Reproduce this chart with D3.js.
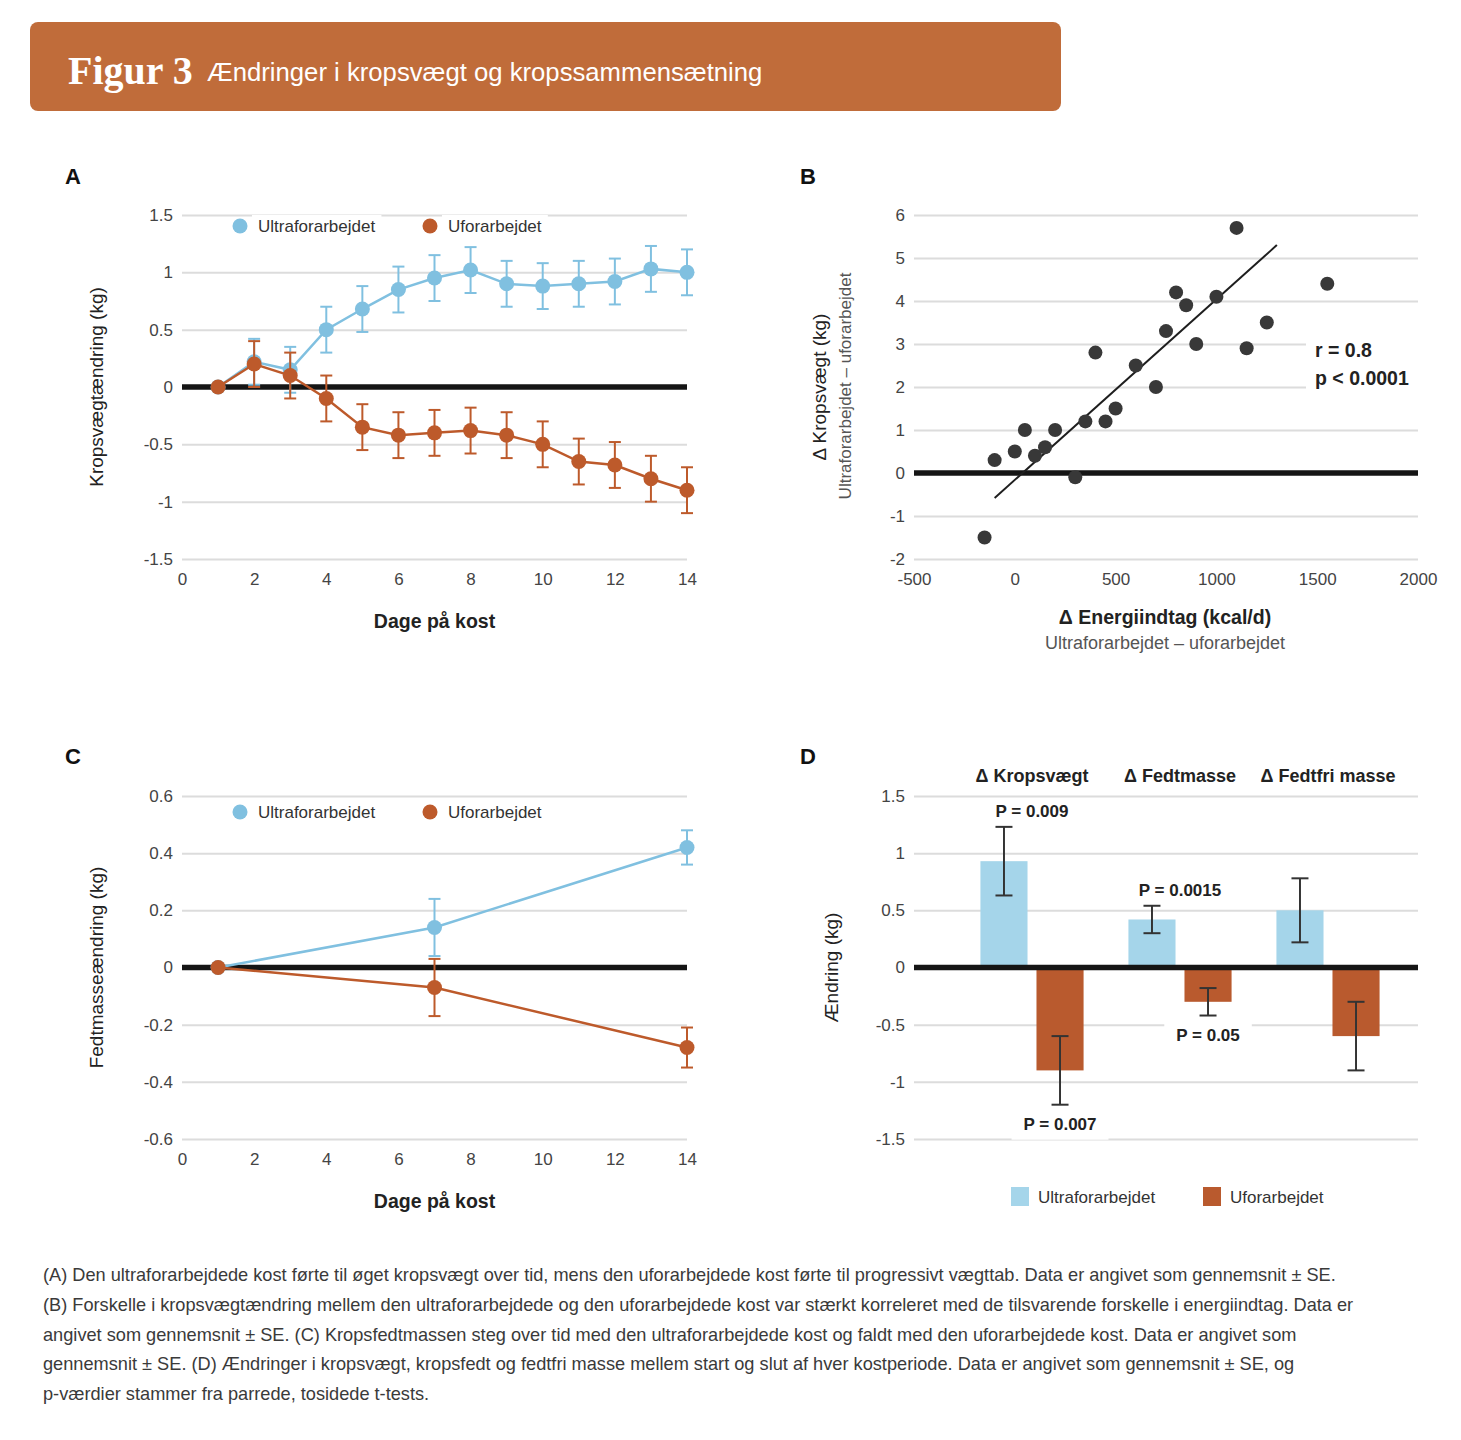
<!DOCTYPE html>
<html>
<head>
<meta charset="utf-8">
<script src="https://cdn.jsdelivr.net/npm/d3@7"></script>
<style>
  body { margin: 0; background: #fff; }
  svg { font-family: 'Liberation Sans', Arial, sans-serif; }
  .tick text { fill: #444; font-size: 17px; }
  .grid .tick line { stroke: #dcdcdc; stroke-width: 2; }
  .axis-title { fill: #222; font-size: 19px; }
  .axis-bold { fill: #222; font-size: 19.5px; font-weight: bold; }
  .panel-label { fill: #111; font-size: 22px; font-weight: bold; }
  .legend text { fill: #333; font-size: 17px; }
</style>
</head>
<body>
<svg id="fig"></svg>
<script>
// ---- data ----
// A: body weight change by day
const daysA = [1, 2, 3, 4, 5, 6, 7, 8, 9, 10, 11, 12, 13, 14]
const ultraWeight = [0, 0.22, 0.15, 0.5, 0.68, 0.85, 0.95, 1.02, 0.9, 0.88, 0.9, 0.92, 1.03, 1.0]
const ultraWeightSE = [null, 0.2, 0.2, 0.2, 0.2, 0.2, 0.2, 0.2, 0.2, 0.2, 0.2, 0.2, 0.2, 0.2]
const unprocWeight = [0, 0.2, 0.1, -0.1, -0.35, -0.42, -0.4, -0.38, -0.42, -0.5, -0.65, -0.68, -0.8, -0.9]
const unprocWeightSE = [null, 0.2, 0.2, 0.2, 0.2, 0.2, 0.2, 0.2, 0.2, 0.2, 0.2, 0.2, 0.2, 0.2]
const ticksA = [-1.5, -1, -0.5, 0, 0.5, 1, 1.5]
const dayTicks = [0, 2, 4, 6, 8, 10, 12, 14]

// B: energy intake difference vs body weight difference
const energyDiff = [-150, -100, 0, 50, 100, 150, 200, 300, 350, 400, 450, 500, 600, 700, 750, 800, 850, 900, 1000, 1100, 1150, 1250, 1550]
const weightDiff = [-1.5, 0.3, 0.5, 1.0, 0.4, 0.6, 1.0, -0.1, 1.2, 2.8, 1.2, 1.5, 2.5, 2.0, 3.3, 4.2, 3.9, 3.0, 4.1, 5.7, 2.9, 3.5, 4.4]
const fitIntercept = -0.16
const fitSlope = 0.0042
const fitRange = [-100, 1300]
const ticksBx = [-500, 0, 500, 1000, 1500, 2000]
const ticksBy = [-2, -1, 0, 1, 2, 3, 4, 5, 6]

// C: fat mass change
const daysC = [1, 7, 14]
const ultraFat = [0, 0.14, 0.42]
const ultraFatSE = [null, 0.1, 0.06]
const unprocFat = [0, -0.07, -0.28]
const unprocFatSE = [null, 0.1, 0.07]
const ticksC = [-0.6, -0.4, -0.2, 0, 0.2, 0.4, 0.6]

// D: start-to-end change
const measures = ['Δ Kropsvægt', 'Δ Fedtmasse', 'Δ Fedtfri masse']
const ultraChange = [0.93, 0.42, 0.5]
const ultraChangeSE = [0.3, 0.12, 0.28]
const unprocChange = [-0.9, -0.3, -0.6]
const unprocChangeSE = [0.3, 0.12, 0.3]
const ultraP = ['P = 0.009', 'P = 0.0015', null]
const unprocP = ['P = 0.007', 'P = 0.05', null]
const ticksD = [-1.5, -1, -0.5, 0, 0.5, 1, 1.5]

const diets = ['Ultraforarbejdet', 'Uforarbejdet']
const lineColors = ['#80c0e0', '#bd5a2b']
const barColors = ['#a5d5ea', '#b95a2e']

const captionLines = [
  '(A) Den ultraforarbejdede kost førte til øget kropsvægt over tid, mens den uforarbejdede kost førte til progressivt vægttab. Data er angivet som gennemsnit ± SE.',
  '(B) Forskelle i kropsvægtændring mellem den ultraforarbejdede og den uforarbejdede kost var stærkt korreleret med de tilsvarende forskelle i energiindtag. Data er',
  'angivet som gennemsnit ± SE. (C) Kropsfedtmassen steg over tid med den ultraforarbejdede kost og faldt med den uforarbejdede kost. Data er angivet som',
  'gennemsnit ± SE. (D) Ændringer i kropsvægt, kropsfedt og fedtfri masse mellem start og slut af hver kostperiode. Data er angivet som gennemsnit ± SE, og',
  'p-værdier stammer fra parrede, tosidede t-tests.'
]

// ---- drawing ----
const svg = d3.select('#fig').attr('width', 1461).attr('height', 1440)
const fmt = d => String(+d.toFixed(2))

// header
svg.append('rect').attr('x', 30).attr('y', 22).attr('width', 1031).attr('height', 89)
  .attr('rx', 8).attr('fill', '#c06c3a')
svg.append('text').attr('x', 68).attr('y', 84)
  .style('font-family', "'Liberation Serif', 'DejaVu Serif', serif")
  .style('font-weight', 'bold').style('font-size', '40px').attr('fill', '#fff')
  .text('Figur 3')
svg.append('text').attr('x', 207).attr('y', 81)
  .style('font-size', '25.7px').attr('fill', '#fff')
  .text('Ændringer i kropsvægt og kropssammensætning')

// panel labels
;[['A', 65, 184], ['B', 800, 184], ['C', 65, 764], ['D', 800, 764]].forEach(p => {
  svg.append('text').attr('class', 'panel-label').attr('x', p[1]).attr('y', p[2]).text(p[0])
})

function yGrid(g, y, ticks, w) {
  const ax = g.append('g').attr('class', 'grid')
    .call(d3.axisLeft(y).tickValues(ticks).tickSize(-w).tickPadding(9).tickFormat(fmt))
  ax.select('.domain').remove()
  return ax
}

function xAxis(g, x, ticks, h) {
  const ax = g.append('g').attr('transform', `translate(0,${h})`)
    .call(d3.axisBottom(x).tickValues(ticks).tickSize(0).tickPadding(14).tickFormat(fmt))
  ax.select('.domain').remove()
}

function zeroLine(g, y, w) {
  g.append('line').attr('x1', 0).attr('x2', w).attr('y1', y(0)).attr('y2', y(0))
    .attr('stroke', '#151515').attr('stroke-width', 5.5)
}

// white box behind a text so grid lines break around it
function backing(parent, t, px, py) {
  const bb = t.node().getBBox()
  parent.insert('rect', () => t.node()).attr('x', bb.x - px).attr('y', bb.y - py)
    .attr('width', bb.width + 2 * px).attr('height', bb.height + 2 * py).attr('fill', '#fff')
}

function legendDots(g, xs, yy) {
  const lg = g.append('g').attr('class', 'legend')
  diets.forEach((d, i) => {
    const t = lg.append('text').attr('x', xs[i] + 18).attr('y', yy + 6).text(d)
    backing(lg, t, 6, 2)
    lg.append('circle').attr('cx', xs[i]).attr('cy', yy).attr('r', 7.5).attr('fill', lineColors[i])
  })
}

function lineChart(cfg) {
  const g = svg.append('g').attr('transform', `translate(${cfg.left},${cfg.top})`)
  const x = d3.scaleLinear().domain([0, 14]).range([0, cfg.width])
  const y = d3.scaleLinear().domain(cfg.yDomain).range([cfg.height, 0])

  yGrid(g, y, cfg.yTicks, cfg.width)
  xAxis(g, x, dayTicks, cfg.height)
  zeroLine(g, y, cfg.width)

  const line = d3.line().x(d => x(d.day)).y(d => y(d.v))
  cfg.series.forEach((s, i) => {
    const pts = cfg.days.map((day, j) => ({day: day, v: s.values[j], se: s.se[j]}))
    const col = lineColors[i]
    g.append('path').datum(pts).attr('d', line)
      .attr('fill', 'none').attr('stroke', col).attr('stroke-width', 2.5)
    const eb = g.append('g').attr('stroke', col).attr('stroke-width', 2)
    pts.filter(p => p.se != null).forEach(p => {
      const cx = x(p.day)
      eb.append('line').attr('x1', cx).attr('x2', cx).attr('y1', y(p.v - p.se)).attr('y2', y(p.v + p.se))
      eb.append('line').attr('x1', cx - 6).attr('x2', cx + 6).attr('y1', y(p.v - p.se)).attr('y2', y(p.v - p.se))
      eb.append('line').attr('x1', cx - 6).attr('x2', cx + 6).attr('y1', y(p.v + p.se)).attr('y2', y(p.v + p.se))
    })
    g.append('g').selectAll('circle').data(pts).join('circle')
      .attr('cx', d => x(d.day)).attr('cy', d => y(d.v)).attr('r', 7.5).attr('fill', col)
  })

  legendDots(g, [58, 248], cfg.legendY)

  g.append('text').attr('class', 'axis-title')
    .attr('transform', `translate(${-79},${cfg.height / 2}) rotate(-90)`)
    .attr('text-anchor', 'middle').text(cfg.yTitle)
  g.append('text').attr('class', 'axis-bold').attr('x', cfg.width / 2).attr('y', cfg.height + 69)
    .attr('text-anchor', 'middle').text('Dage på kost')
}

// A
lineChart({
  left: 182, top: 215, width: 505, height: 344,
  yDomain: [-1.5, 1.5], yTicks: ticksA, days: daysA, legendY: 11,
  yTitle: 'Kropsvægtændring (kg)',
  series: [{values: ultraWeight, se: ultraWeightSE}, {values: unprocWeight, se: unprocWeightSE}]
})

// C
lineChart({
  left: 182, top: 796, width: 505, height: 343,
  yDomain: [-0.6, 0.6], yTicks: ticksC, days: daysC, legendY: 16,
  yTitle: 'Fedtmasseændring (kg)',
  series: [{values: ultraFat, se: ultraFatSE}, {values: unprocFat, se: unprocFatSE}]
})

// B scatter
{
  const w = 504, h = 344
  const g = svg.append('g').attr('transform', 'translate(914,215)')
  const x = d3.scaleLinear().domain([-500, 2000]).range([0, w])
  const y = d3.scaleLinear().domain([-2, 6]).range([h, 0])
  yGrid(g, y, ticksBy, w)
  xAxis(g, x, ticksBx, h)
  zeroLine(g, y, w)

  g.append('line')
    .attr('x1', x(fitRange[0])).attr('y1', y(fitIntercept + fitSlope * fitRange[0]))
    .attr('x2', x(fitRange[1])).attr('y2', y(fitIntercept + fitSlope * fitRange[1]))
    .attr('stroke', '#1e1e1e').attr('stroke-width', 2)

  g.append('g').selectAll('circle').data(energyDiff).join('circle')
    .attr('cx', d => x(d)).attr('cy', (d, i) => y(weightDiff[i]))
    .attr('r', 7).attr('fill', '#383838')

  g.append('rect').attr('x', 392).attr('y', 118).attr('width', 112).attr('height', 64).attr('fill', '#fff')
  g.append('text').attr('class', 'axis-bold').attr('x', 401).attr('y', 142).text('r = 0.8')
  g.append('text').attr('class', 'axis-bold').attr('x', 401).attr('y', 170).text('p < 0.0001')

  g.append('text').attr('class', 'axis-title')
    .attr('transform', `translate(-88,${h / 2}) rotate(-90)`).attr('text-anchor', 'middle')
    .text('Δ Kropsvægt (kg)')
  g.append('text').attr('transform', `translate(-63,${h / 2 - 1}) rotate(-90)`)
    .attr('text-anchor', 'middle').style('font-size', '17px').attr('fill', '#555')
    .text('Ultraforarbejdet – uforarbejdet')
  g.append('text').attr('class', 'axis-bold').attr('x', 251).attr('y', 409)
    .attr('text-anchor', 'middle').text('Δ Energiindtag (kcal/d)')
  g.append('text').attr('x', 251).attr('y', 434).attr('text-anchor', 'middle')
    .style('font-size', '18px').attr('fill', '#555').text('Ultraforarbejdet – uforarbejdet')
}

// D grouped bars
{
  const w = 504, h = 343
  const g = svg.append('g').attr('transform', 'translate(914,796)')
  const x0 = d3.scaleBand().domain(measures).range([44, 488])
  const x1 = d3.scaleBand().domain(diets).range([0, x0.bandwidth()]).paddingInner(0.16).paddingOuter(0.4)
  const y = d3.scaleLinear().domain([-1.5, 1.5]).range([h, 0])
  yGrid(g, y, ticksD, w)

  const rows = []
  measures.forEach((m, i) => {
    rows.push({m: m, diet: diets[0], v: ultraChange[i], se: ultraChangeSE[i], p: ultraP[i], c: barColors[0]})
    rows.push({m: m, diet: diets[1], v: unprocChange[i], se: unprocChangeSE[i], p: unprocP[i], c: barColors[1]})
  })

  g.append('g').selectAll('rect').data(rows).join('rect')
    .attr('x', d => x0(d.m) + x1(d.diet)).attr('width', x1.bandwidth())
    .attr('y', d => y(Math.max(0, d.v))).attr('height', d => Math.abs(y(d.v) - y(0)))
    .attr('fill', d => d.c)
  zeroLine(g, y, w)

  const eb = g.append('g').attr('stroke', '#333').attr('stroke-width', 2)
  rows.forEach(d => {
    const cx = x0(d.m) + x1(d.diet) + x1.bandwidth() / 2
    eb.append('line').attr('x1', cx).attr('x2', cx).attr('y1', y(d.v - d.se)).attr('y2', y(d.v + d.se))
    ;[d.v - d.se, d.v + d.se].forEach(v => {
      eb.append('line').attr('x1', cx - 8.5).attr('x2', cx + 8.5).attr('y1', y(v)).attr('y2', y(v))
    })
  })

  // p labels: gains sit above the group, losses below their bar
  const pg = g.append('g')
  rows.filter(d => d.p).forEach(d => {
    const up = d.v > 0
    const cx = up ? x0(d.m) + x0.bandwidth() / 2 : x0(d.m) + x1(d.diet) + x1.bandwidth() / 2
    const ty = up ? y(d.v + d.se) - 10 : y(d.v - d.se) + 25
    const t = pg.append('text').attr('x', cx).attr('y', ty).attr('text-anchor', 'middle')
      .style('font-size', '17px').style('font-weight', 'bold').attr('fill', '#222').text(d.p)
    if (!up) backing(pg, t, 12, 6)
  })

  g.append('g').selectAll('text').data(measures).join('text')
    .attr('class', 'axis-bold').style('font-size', '18px')
    .attr('x', d => x0(d) + x0.bandwidth() / 2).attr('y', -14)
    .attr('text-anchor', 'middle').text(d => d)

  g.append('text').attr('class', 'axis-title')
    .attr('transform', `translate(-76,${h / 2}) rotate(-90)`).attr('text-anchor', 'middle')
    .text('Ændring (kg)')

  const lg = g.append('g').attr('class', 'legend').attr('transform', `translate(0,${h + 48})`)
  diets.forEach((d, i) => {
    const lx = [97, 289][i]
    lg.append('rect').attr('x', lx).attr('y', 0).attr('width', 18).attr('height', 19).attr('fill', barColors[i])
    lg.append('text').attr('x', lx + 27).attr('y', 16).text(d)
  })
}

// caption
svg.append('g').selectAll('text').data(captionLines).join('text')
  .attr('x', 43).attr('y', (d, i) => 1281 + i * 29.8)
  .style('font-size', '18.2px').attr('fill', '#3a3a3a').text(d => d)
</script>
</body>
</html>
